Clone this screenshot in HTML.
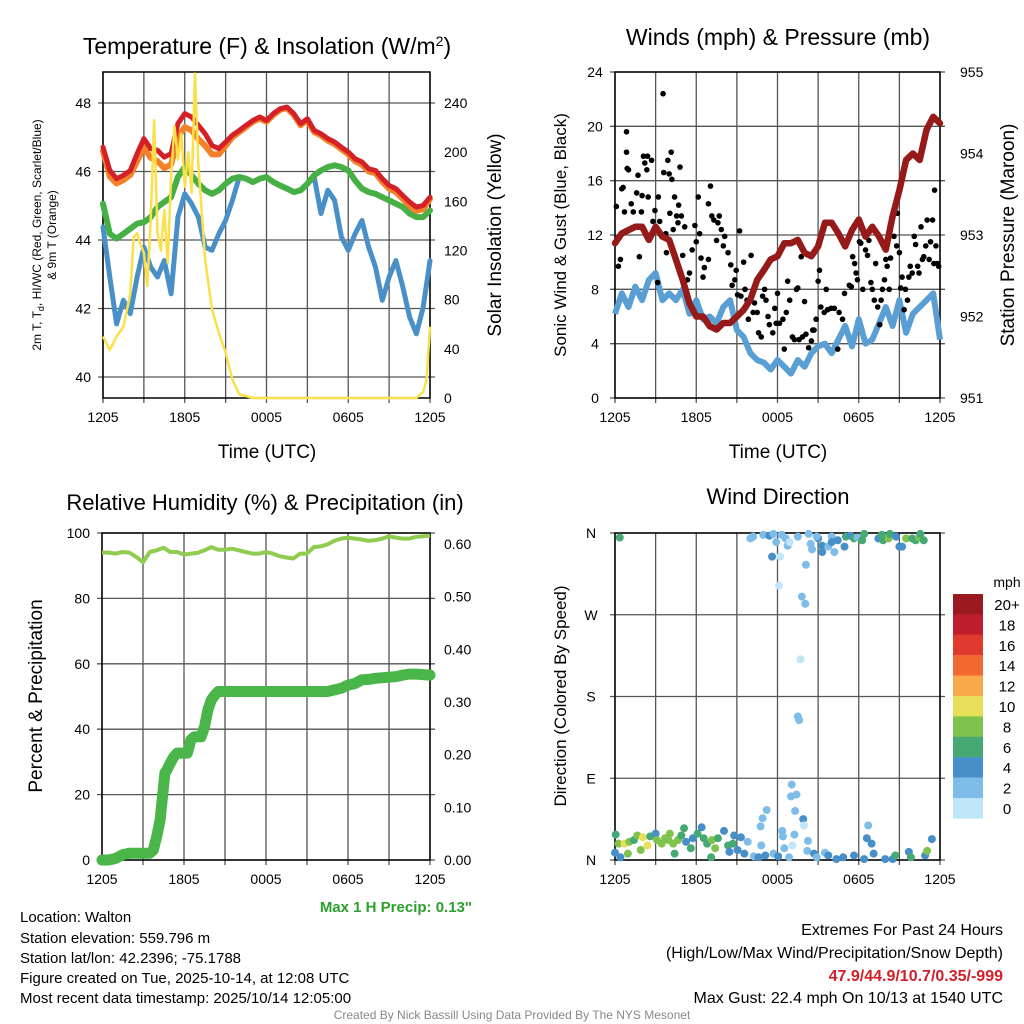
<!DOCTYPE html>
<html><head><meta charset="utf-8"><style>
body{margin:0;background:#fff;}
svg{display:block;font-family:"Liberation Sans",sans-serif;}
</style></head><body>
<svg id="fig" width="1024" height="1024" viewBox="0 0 1024 1024">
<g id="g1"></g>
<g id="g2"></g>
<g id="g3"></g>
<g id="g4"></g>
<text x="267" y="54" font-size="23" text-anchor="middle">Temperature (F) &amp; Insolation (W/m<tspan dy="-8" font-size="14">2</tspan><tspan dy="8">)</tspan></text>
<text x="778" y="45" font-size="23" text-anchor="middle">Winds (mph) &amp; Pressure (mb)</text>
<text x="265" y="510" font-size="22" text-anchor="middle">Relative Humidity (%) &amp; Precipitation (in)</text>
<text x="778" y="504" font-size="22" text-anchor="middle">Wind Direction</text>
<text x="267" y="458" font-size="19" text-anchor="middle">Time (UTC)</text>
<text x="778" y="458" font-size="19" text-anchor="middle">Time (UTC)</text>
<text transform="translate(41,235) rotate(-90)" font-size="12" text-anchor="middle">2m T, T<tspan dy="3" font-size="9">d</tspan><tspan dy="-3">, HI/WC (Red, Green, Scarlet/Blue)</tspan></text>
<text transform="translate(56,235) rotate(-90)" font-size="12" text-anchor="middle">&amp; 9m T (Orange)</text>
<text transform="translate(501,235) rotate(-90)" font-size="19" text-anchor="middle">Solar Insolation (Yellow)</text>
<text transform="translate(566,235) rotate(-90)" font-size="17" text-anchor="middle">Sonic Wind &amp; Gust (Blue, Black)</text>
<text transform="translate(1014,235) rotate(-90)" font-size="19" text-anchor="middle">Station Pressure (Maroon)</text>
<text transform="translate(42,696) rotate(-90)" font-size="19" text-anchor="middle">Percent &amp; Precipitation</text>
<text transform="translate(566,696) rotate(-90)" font-size="17" text-anchor="middle">Direction (Colored By Speed)</text>
<g font-size="15">
<text x="20" y="922">Location: Walton</text>
<text x="20" y="943">Station elevation: 559.796 m</text>
<text x="20" y="963">Station lat/lon: 42.2396; -75.1788</text>
<text x="20" y="983">Figure created on Tue, 2025-10-14, at 12:08 UTC</text>
<text x="20" y="1003">Most recent data timestamp: 2025/10/14 12:05:00</text>
</g>
<text x="472" y="912" font-size="15" font-weight="bold" fill="#2ca02c" text-anchor="end">Max 1 H Precip: 0.13"</text>
<g font-size="16" text-anchor="end">
<text x="1003" y="935">Extremes For Past 24 Hours</text>
<text x="1003" y="958">(High/Low/Max Wind/Precipitation/Snow Depth)</text>
<text x="1003" y="981" fill="#d0202a" font-weight="bold">47.9/44.9/10.7/0.35/-999</text>
<text x="1003" y="1003">Max Gust: 22.4 mph On 10/13 at 1540 UTC</text>
</g>
<text x="512" y="1019" font-size="12" fill="#888" text-anchor="middle">Created By Nick Bassill Using Data Provided By The NYS Mesonet</text>
</svg>
<script>
const xTickLabels=["1205","1805","0005","0605","1205"];
const hours30=[0,0.5,1,1.5,2,2.5,3,3.5,4,4.5,5,5.5,6,6.5,7,7.5,8,8.5,9,9.5,10,10.5,11,11.5,12,12.5,13,13.5,14,14.5,15,15.5,16,16.5,17,17.5,18,18.5,19,19.5,20,20.5,21,21.5,22,22.5,23,23.5,24];
const temp2m=[46.71,46.03,45.79,45.89,46.03,46.52,46.96,46.67,46.62,46.42,46.52,47.40,47.69,47.59,47.35,47.10,46.76,46.67,46.86,47.06,47.20,47.35,47.49,47.59,47.49,47.69,47.83,47.88,47.69,47.40,47.54,47.20,47.10,46.96,46.86,46.71,46.57,46.37,46.28,46.08,46.03,45.79,45.59,45.50,45.30,45.11,44.96,45.01,45.25];
const temp9m=[46.6,45.85,45.65,45.75,45.9,46.3,46.7,46.4,46.3,46.1,46.2,47.0,47.3,47.2,46.95,46.75,46.5,46.5,46.75,47.0,47.15,47.3,47.45,47.55,47.45,47.65,47.8,47.85,47.65,47.35,47.5,47.15,47.05,46.9,46.8,46.65,46.5,46.3,46.2,46.0,45.95,45.7,45.5,45.4,45.2,45.0,44.85,44.9,45.2];
const dewpoint=[45.06,44.18,44.04,44.18,44.33,44.48,44.52,44.67,44.96,45.11,45.25,45.84,46.13,45.89,45.64,45.45,45.35,45.45,45.64,45.79,45.84,45.79,45.69,45.79,45.84,45.69,45.59,45.50,45.40,45.45,45.64,45.89,46.03,46.13,46.18,46.13,46.03,45.74,45.50,45.40,45.35,45.25,45.16,45.06,44.96,44.77,44.67,44.67,44.86];
const heatIndexWC=[44.38,42.92,41.55,42.24,41.85,42.92,43.79,43.21,42.92,43.40,42.43,44.67,45.35,45.06,44.67,43.79,43.70,44.18,44.57,45.16,45.84,45.79,45.69,45.79,45.84,45.69,45.59,45.50,45.40,45.45,45.64,45.84,44.77,45.45,45.16,44.09,43.70,44.18,44.57,43.79,43.21,42.24,42.92,43.40,42.63,41.75,41.26,42.04,43.40];
const solarHours=[0,0.5,1,1.5,2,2.25,2.5,2.75,3,3.25,3.5,3.75,4,4.25,4.5,4.75,5,5.25,5.5,5.75,6,6.25,6.5,6.75,7,7.25,7.5,8,8.5,9,9.5,10,11,23,23.5,23.75,24];
const solarVals=[50,39,50,58,85,131,134,125,118,91,145,226,134,120,153,110,180,221,194,215,172,200,167,264,190,150,112,72,53,37,15,3,0,0,5,15,58];
const windSpeed=[6.2,7.7,6.7,8.2,7.2,8.7,9.2,7.2,7.7,7.2,8.0,6.2,7.2,5.8,6.0,5.5,6.7,7.2,5.0,4.5,3.3,2.8,2.6,2.1,2.8,2.3,1.8,2.8,2.3,3.3,3.8,4.0,3.3,4.3,5.3,3.8,5.8,4.0,4.3,5.5,6.7,5.3,7.2,4.8,6.2,6.7,7.2,7.7,4.3];
const pressure=[952.90,953.02,953.06,953.10,953.10,952.94,953.10,952.98,952.94,952.70,952.45,952.16,952.00,952.00,951.88,951.84,951.92,951.92,952.00,952.08,952.21,952.45,952.57,952.70,952.74,952.90,952.90,952.94,952.78,952.74,952.86,953.15,953.15,953.02,952.86,953.06,953.19,952.98,953.10,952.98,952.82,953.23,953.55,953.92,954.00,953.92,954.29,954.45,954.37];
const gustHours=[0.1,0.25,0.4,0.5,0.6,0.7,0.85,0.85,0.9,1.0,1.2,1.35,1.6,1.7,1.8,2.0,1.95,2.1,2.2,2.35,2.4,2.45,2.7,2.8,2.95,3.15,3.2,3.3,3.55,3.6,3.75,3.8,3.9,4.0,4.05,4.15,4.2,4.3,4.4,4.55,4.65,4.7,4.8,4.9,5.0,5.15,5.35,5.5,5.7,5.9,6.0,6.15,6.25,6.35,6.5,6.6,6.9,6.9,7.05,7.15,7.3,7.5,7.6,7.7,7.85,8.0,8.1,8.35,8.55,8.65,8.85,8.95,9.05,9.2,9.3,9.5,9.6,9.75,9.85,10.05,10.2,10.3,10.5,10.6,10.8,10.9,11.05,11.15,11.3,11.4,11.65,11.8,11.9,12.0,12.15,12.4,12.5,12.65,12.75,12.9,13.1,13.25,13.4,13.5,13.6,13.75,13.85,14.0,14.1,14.3,14.5,14.6,14.7,14.85,15.0,15.1,15.2,15.45,15.6,15.7,15.95,16.2,16.45,16.55,16.8,16.95,17.3,17.45,17.55,17.7,17.8,17.9,18.05,18.15,18.3,18.5,18.65,18.75,18.9,19.0,19.15,19.25,19.4,19.55,19.65,19.75,19.9,20.0,20.1,20.25,20.35,20.6,20.8,20.85,21.0,21.1,21.2,21.35,21.45,21.6,21.7,21.8,21.95,22.1,22.2,22.35,22.45,22.6,22.7,22.8,22.95,23.05,23.2,23.3,23.45,23.55,23.6,23.7,23.8,23.9];
const gustVals=[14.1,9.7,10.2,15.4,15.5,13.7,19.6,18.1,16.9,16.8,14.3,13.7,15.1,16.4,10.4,14.9,13.7,17.8,17.3,16.8,17.8,14.8,17.5,13.0,13.8,8.5,14.8,13.0,22.4,16.6,12.1,10.7,17.5,16.5,13.6,18.1,16.1,12.4,14.8,13.4,12.9,14.2,17.0,13.4,10.5,12.6,8.7,9.2,10.9,12.7,11.5,14.8,12.1,10.3,8.9,9.6,10.2,14.3,15.6,13.4,13.1,11.6,12.9,13.4,12.4,11.2,11.9,10.7,9.8,8.3,8.7,9.4,7.6,12.3,7.5,10.0,8.0,7.2,5.8,10.5,6.3,7.0,6.3,4.8,4.5,7.5,8.0,7.2,6.0,5.4,4.8,6.6,5.5,7.7,5.5,5.8,3.6,6.3,8.6,7.2,4.5,4.3,8.0,8.1,4.3,10.4,4.5,7.1,4.7,3.7,4.2,5.0,5.0,5.8,8.6,9.4,6.7,6.3,8.0,6.5,6.6,6.6,3.6,6.3,5.8,7.7,8.3,8.2,10.4,9.9,9.2,8.7,11.5,11.4,8.0,10.9,10.5,11.6,8.5,8.0,7.2,9.9,6.7,5.4,7.2,8.0,8.7,10.2,9.7,8.0,10.3,11.9,11.2,13.6,10.7,8.1,8.9,6.5,8.0,7.2,8.9,9.7,9.2,11.9,11.3,9.7,9.2,12.6,10.2,10.4,11.2,13.1,10.2,11.5,13.1,9.9,15.3,11.2,9.9,9.7];
const rhVals=[94.0,94.0,93.7,94.2,94.0,92.7,91.1,94.2,94.7,95.5,94.2,94.2,93.4,93.7,93.9,94.7,95.7,94.9,94.9,95.2,94.7,94.2,93.7,93.7,94.2,93.7,92.9,92.5,92.2,93.7,93.7,95.7,95.9,96.5,97.6,98.3,98.6,98.3,98.0,97.6,97.8,98.3,99.0,98.6,98.3,98.3,98.8,99.0,99.2];
const precipHours=[0,0.5,1,1.5,2,2.5,3,3.5,3.75,4,4.25,4.5,4.6,4.75,5,5.25,5.5,6,6.25,6.5,6.75,7,7.25,7.5,7.75,8,8.25,8.5,9,12,16.5,17,17.5,18,18.5,19,19.5,20,21,21.5,22,22.5,23,24];
const precipVals=[0,0,0.003,0.01,0.013,0.013,0.013,0.013,0.019,0.044,0.076,0.139,0.165,0.171,0.184,0.196,0.203,0.203,0.203,0.228,0.234,0.234,0.234,0.253,0.285,0.304,0.313,0.320,0.320,0.320,0.320,0.323,0.326,0.332,0.335,0.342,0.343,0.345,0.347,0.348,0.351,0.353,0.353,0.351];
const dirHours=[0.35,10,10.2,10.95,11.4,11.7,12.3,11.9,12.6,12.75,12.9,13.5,14.3,14.45,14.55,15.0,15.3,15.3,15.75,16.0,16.2,16.45,16.95,17.05,17.4,17.65,17.9,18.4,18.25,19.45,19.7,19.8,20.2,20.3,20.75,21.0,21.2,21.5,21.95,22.2,22.45,22.55,22.8,14.9,16.0,11.6,12.2,14.1,12.1,13.8,14.05,13.7,13.5,13.6,13.05,13.0,13.4,13.3,11.2,10.9,10.75,13.9,13.95,12.35,12.4,13.25,14.25,18.7,18.6,18.95,23.4,0,0.05,0.25,0.4,0.7,0.95,1.05,1.4,1.65,1.9,2.05,2.4,2.6,3.0,3.1,3.45,3.7,3.95,4.05,4.3,4.4,4.65,4.9,5.1,5.25,5.6,5.75,6.1,6.4,6.55,6.8,7.15,7.1,7.4,7.6,8.05,8.35,8.45,8.7,8.8,9.05,9.3,9.55,9.8,10.25,10.6,10.8,11.1,11.7,12.05,12.5,12.85,13.1,14.2,14.7,14.9,15.5,15.75,16.35,16.85,17.65,18.4,19.1,19.95,20.5,20.7,21.7,21.85,22.9,23.05];
const dirDegrees=[355,354,356,358,357,359,358,350,354,346,350,356,359,348,342,354,346,339,345,356,339,352,345,356,357,354,355,359,352,354,358,352,354,359,356,345,345,354,354,352,355,359,352,356,350,334,334,325,302,290,282,221,158,154,83,70,72,54,55,46,37,45,38,32,26,28,21,38,24,18,23,8,28,18,3,18,7,20,22,27,11,25,16,26,29,22,18,24,22,29,18,7,22,27,35,20,13,24,29,36,24,18,22,3,13,24,32,16,9,18,27,11,25,7,20,4,3,16,5,7,4,13,3,16,10,7,3,8,5,1,3,5,1,7,1,1,5,9,3,5,10];
const dirSpeeds=[7,3,3,3,4.5,3,3,3,3,3,1,3,3,3,3,4.5,4.5,4.5,3,3,3,4.5,4.5,7,4.5,7,3,7,7,4.5,7,7,9,7,4.5,4.5,4.5,9,7,7,9,7,7,3,4.5,4.5,1,3,1,3,3,1,3,3,3,3,3,3,3,3,3,4.5,1,3,3,3,3,3,4.5,4.5,4.5,4.5,7,9,4.5,10.5,9,9,7,9,9,10.5,10.5,7,4.5,9,9,9,9,9,9,7,9,7,7,4.5,7,4.5,7,4.5,7,7,9,7,9,7,4.5,7,4.5,7,4.5,4.5,4.5,4.5,3,3,4.5,3,4.5,3,4.5,3,3,1,3,4.5,3,3,4.5,4.5,4.5,4.5,4.5,4.5,4.5,4.5,7,4.5,7,4.5,9];
const cbLabels=["20+","18","16","14","12","10","8","6","4","2","0"];
const cbColors=["#9a1a1f","#be1e2d","#e03a2e","#f26a2e","#f9a94a","#e8e05a","#7fc24c","#46a872","#468fc8","#7dbde8","#bfe6f9"];

const NS="http://www.w3.org/2000/svg";
function el(parent,tag,attrs){const e=document.createElementNS(NS,tag);for(const k in attrs)e.setAttribute(k,attrs[k]);parent.appendChild(e);return e;}
function lin(d0,d1,r0,r1){return v=>r0+(v-d0)/(d1-d0)*(r1-r0);}
function pathFrom(xsArr,ysArr,xf,yf){return xsArr.map((v,i)=>(i?"L":"M")+xf(v).toFixed(1)+","+yf(ysArr[i]).toFixed(1)).join("");}

function frame(g,x0,x1,y0,y1,hTicksY){
  for(let h=0;h<=24;h+=3){const x=lin(0,24,x0,x1)(h);
    const l=el(g,"line",{x1:x,x2:x,y1:y0,y2:y1+5,stroke:"#555","stroke-width":1.3});
    
    }
  hTicksY.forEach(y=>{const l=el(g,"line",{x1:x0-5,x2:x1+5,y1:y,y2:y,stroke:"#555","stroke-width":1.3});
    
    });
  const r=el(g,"rect",{x:x0,y:y0,width:x1-x0,height:y1-y0,fill:"none",stroke:"#000","stroke-width":1.5});
  
  
  xTickLabels.forEach((s,i)=>{const t=el(g,"text",{x:lin(0,4,x0,x1)(i),y:y1+24,"font-size":14,"text-anchor":"middle"});t.textContent=s;
    
    });
}
function label(g,x,y,s,anchor,name){const t=el(g,"text",{x:x,y:y+5,"font-size":14,"text-anchor":anchor});t.textContent=s;
  
  }

// Panel 1
(function(){
  const g=document.getElementById("g1"),x0=103,x1=430,y0=72,y1=398;
  const X=lin(0,24,x0,x1),Y=lin(40,48,377,103),S=lin(0,240,398,103);
  const ty=[];for(let v=40;v<=48;v+=2)ty.push(Y(v));
  frame(g,x0,x1,y0,y1,ty);
  for(let v=40;v<=48;v+=2)label(g,x0-12,Y(v),String(v),"end","y-tick-label-left");
  for(let v=0;v<=240;v+=40)label(g,x1+14,S(v),String(v),"start","y-tick-label-right");
  const series=[[heatIndexWC,"#4a90c8",5,"dewpoint-hiwc-line"],[dewpoint,"#46b046",6,"dewpoint-line"],[temp9m,"#f4802a",6,"temp-9m-line"],[temp2m,"#d42027",5,"temp-2m-line"]];
  series.forEach(s=>{const p=el(g,"path",{d:pathFrom(hours30,s[0],X,Y),fill:"none",stroke:s[1],"stroke-width":s[2],"stroke-linejoin":"round","stroke-linecap":"round"});
    
    });
  const p=el(g,"path",{d:pathFrom(solarHours,solarVals,X,S),fill:"none",stroke:"#fbe04a","stroke-width":2.5,"stroke-linejoin":"round"});
  
  
})();
// Panel 2
(function(){
  const g=document.getElementById("g2"),x0=615,x1=940,y0=72,y1=398;
  const X=lin(0,24,x0,x1),Y=lin(0,24,398,72),P=lin(951,955,398,72);
  const ty=[];for(let v=0;v<=24;v+=4)ty.push(Y(v));
  frame(g,x0,x1,y0,y1,ty);
  for(let v=0;v<=24;v+=4)label(g,x0-20,Y(v),String(v),"middle","y-tick-label-left");
  for(let v=951;v<=955;v++)label(g,x1+20,P(v),String(v),"start","y-tick-label-right");
  const w=el(g,"path",{d:pathFrom(hours30,windSpeed,X,Y),fill:"none",stroke:"#5a9fd4","stroke-width":6,"stroke-linejoin":"round"});
  
  
  gustHours.forEach((h,i)=>{const c=el(g,"circle",{cx:X(h),cy:Y(gustVals[i]),r:2.8,fill:"#000"});
    
    });
  const p=el(g,"path",{d:pathFrom(hours30,pressure,X,P),fill:"none",stroke:"#961a1a","stroke-width":6.5,"stroke-linejoin":"round","stroke-linecap":"round"});
  
  
})();
// Panel 3
(function(){
  const g=document.getElementById("g3"),x0=102,x1=430,y0=533,y1=860;
  const X=lin(0,24,x0,x1),Y=lin(0,100,860,533),R=lin(0,0.6,860,544);
  const ty=[];for(let v=0;v<=100;v+=20)ty.push(Y(v));
  frame(g,x0,x1,y0,y1,ty);
  for(let v=0;v<=100;v+=20)label(g,x0-12,Y(v),String(v),"end","y-tick-label-left");
  for(let v=0;v<=6;v++)label(g,x1+14,R(v/10),(v/10).toFixed(2),"start","y-tick-label-right");
  const rh=el(g,"path",{d:pathFrom(hours30,rhVals,X,Y),fill:"none",stroke:"#8fcc50","stroke-width":4,"stroke-linejoin":"round"});
  
  
  const pr=el(g,"path",{d:pathFrom(precipHours,precipVals,X,R),fill:"none",stroke:"#4ab548","stroke-width":11,"stroke-linejoin":"round","stroke-linecap":"round"});
  
  
})();
// Panel 4
(function(){
  const g=document.getElementById("g4"),x0=615,x1=940,y0=533,y1=860;
  const X=lin(0,24,x0,x1),D=lin(0,360,860,533);
  const ty=[];for(let v=0;v<=360;v+=90)ty.push(D(v));
  frame(g,x0,x1,y0,y1,ty);
  ["N","E","S","W","N"].forEach((s,i)=>label(g,x0-24,D(i*90),s,"middle","direction-tick-label"));
  function col(s){const idx=Math.min(10,Math.floor(s/2));return cbColors[10-idx];}
  dirHours.forEach((h,i)=>{const c=el(g,"circle",{cx:X(h),cy:D(dirDegrees[i]),r:4,fill:col(dirSpeeds[i])});
    
    });
  cbColors.forEach((c,i)=>{const r=el(g,"rect",{x:953,y:594+i*20.4,width:30,height:20.6,fill:c});
    
    
    const t=el(g,"text",{x:1007,y:594+i*20.4+16,"font-size":15,"text-anchor":"middle"});t.textContent=cbLabels[i];
    
    });
  const u=el(g,"text",{x:1007,y:587,"font-size":14,"text-anchor":"middle"});u.textContent="mph";
  
  
})();
</script>
</body></html>
